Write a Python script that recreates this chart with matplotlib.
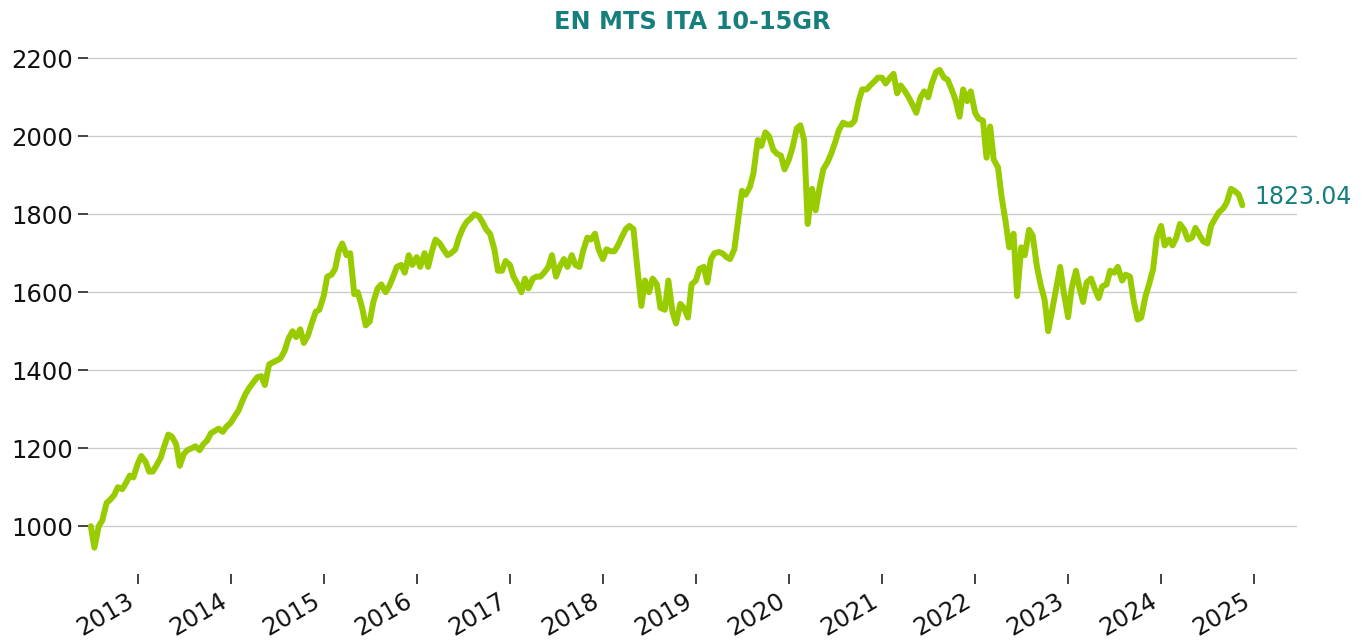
import matplotlib
matplotlib.use("Agg")
import matplotlib.pyplot as plt
import matplotlib.dates as mdates
import pandas as pd

title = "EN MTS ITA 10-15GR"
start_date = "2012-07-01"
end_date = "2024-11-15"

v2012 = [1000, 945, 1000, 1015, 1060, 1068, 1080, 1100, 1095, 1110, 1130, 1125]
v2013 = [1160, 1180, 1165, 1140, 1140, 1155, 1175, 1205, 1235, 1230, 1210, 1155,
         1185, 1195, 1200, 1205, 1195, 1210, 1220, 1238, 1245, 1250, 1242, 1255]
v2014 = [1265, 1280, 1297, 1320, 1340, 1355, 1370, 1382, 1385, 1362, 1415, 1420,
         1425, 1430, 1450, 1480, 1500, 1485, 1505, 1470, 1490, 1520, 1550, 1555]
v2015 = [1590, 1640, 1645, 1660, 1705, 1725, 1695, 1700, 1595, 1600, 1560, 1515,
         1525, 1575, 1610, 1620, 1600, 1615, 1640, 1665, 1670, 1650, 1695, 1670]
v2016 = [1690, 1665, 1700, 1665, 1705, 1735, 1725, 1710, 1695, 1700, 1710, 1740,
         1765, 1780, 1790, 1800, 1795, 1780, 1760, 1750, 1710, 1655, 1655, 1680]
v2017 = [1670, 1640, 1620, 1600, 1635, 1610, 1635, 1640, 1640, 1650, 1665, 1695,
         1640, 1665, 1685, 1665, 1695, 1670, 1665, 1705, 1740, 1735, 1750, 1710]
v2018 = [1685, 1710, 1705, 1705, 1720, 1740, 1762, 1770, 1762, 1670, 1565, 1630,
         1600, 1635, 1620, 1560, 1555, 1630, 1550, 1520, 1570, 1560, 1535, 1620]
v2019 = [1630, 1660, 1665, 1625, 1685, 1700, 1703, 1700, 1690, 1685, 1710, 1780,
         1860, 1850, 1870, 1905, 1990, 1975, 2010, 2000, 1965, 1955, 1950, 1915]
v2020 = [1940, 1970, 2020, 2028, 1990, 1775, 1865, 1810, 1870, 1915, 1934, 1955,
         1985, 2015, 2035, 2030, 2030, 2040, 2090, 2120, 2120, 2130, 2140, 2150]
v2021 = [2150, 2135, 2150, 2160, 2110, 2130, 2115, 2100, 2080, 2060, 2100, 2115,
         2100, 2135, 2165, 2170, 2150, 2145, 2120, 2095, 2050, 2120, 2090, 2115]
v2022 = [2060, 2045, 2040, 1945, 2025, 1940, 1920, 1845, 1780, 1715, 1750, 1590,
         1715, 1695, 1760, 1745, 1665, 1620, 1580, 1500, 1560, 1610, 1665, 1600]
v2023 = [1536, 1610, 1655, 1610, 1575, 1625, 1635, 1610, 1585, 1615, 1620, 1655,
         1650, 1665, 1630, 1645, 1640, 1580, 1530, 1535, 1590, 1620, 1660, 1740]
v2024 = [1770, 1720, 1735, 1720, 1740, 1775, 1760, 1735, 1740, 1765, 1745, 1730,
         1725, 1770, 1790, 1805, 1815, 1830, 1865, 1860, 1850, 1823.04]

values = v2012 + v2013 + v2014 + v2015 + v2016 + v2017 + v2018 + v2019 + v2020 + v2021 + v2022 + v2023 + v2024
dates = pd.date_range(start_date, end_date, freq="SMS")
n = min(len(dates), len(values))
dates = dates[:n]
values = values[:n]

y_ticks = [1000, 1200, 1400, 1600, 1800, 2000, 2200]

line_color = "#99cc00"
teal = "#167f7c"

fig = plt.figure(figsize=(13.69, 6.44), dpi=100)
ax = fig.add_axes([0.0643, 0.109, 0.883, 0.823])

ax.plot(dates, values, color=line_color, linewidth=4.3, solid_joinstyle="round",
        solid_capstyle="round", zorder=3)

ax.set_xlim(pd.Timestamp("2012-06-20"), pd.Timestamp("2025-06-17"))
ax.set_ylim(878, 2237)
ax.set_yticks(y_ticks)
ax.yaxis.grid(True, color="#cccccc", linewidth=1.0, zorder=0)
ax.xaxis.grid(False)
for s in ax.spines.values():
    s.set_visible(False)

ax.xaxis.set_major_locator(mdates.YearLocator())
ax.xaxis.set_major_formatter(mdates.DateFormatter("%Y"))
ax.tick_params(axis="both", labelsize=17.5, length=7, width=1.2, color="#222222", labelcolor="#111111")
for lbl in ax.get_xticklabels():
    lbl.set_rotation(30)
    lbl.set_ha("right")

ax.set_title(title, color=teal, fontsize=17.3, fontweight="bold", pad=11)

ax.annotate(f"{values[-1]:.2f}", xy=(dates[-1], values[-1]), xytext=(9, 6),
            textcoords="offset points", color=teal, fontsize=17, va="center", ha="left",
            annotation_clip=False)

fig.savefig("out.png", dpi=100)
